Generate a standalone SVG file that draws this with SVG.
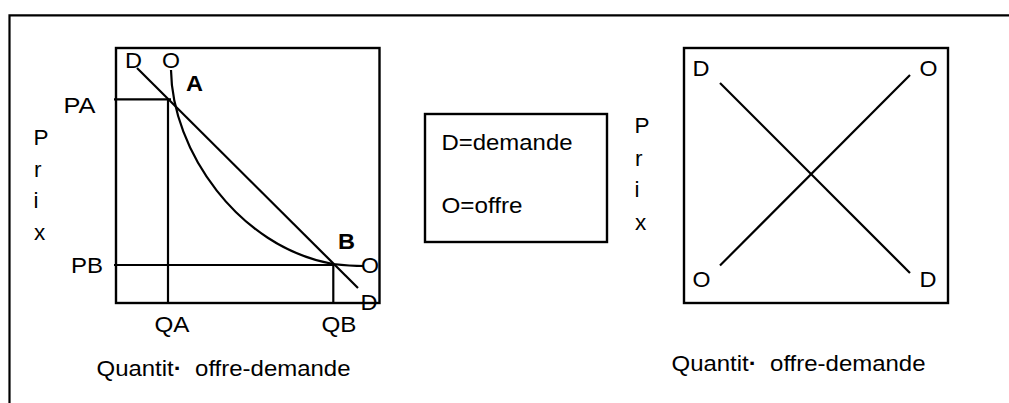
<svg xmlns="http://www.w3.org/2000/svg" width="1009" height="403" viewBox="0 0 1009 403">
<style>
.ln{fill:none;stroke:#000;stroke-width:2.2;stroke-linecap:butt}
.bx{fill:#fff;stroke:#000;stroke-width:2.4}
text{font-family:"Liberation Sans",Arial,Helvetica,sans-serif;font-size:22.5px;fill:#000}
.b{font-weight:bold}
</style>
<rect width="1009" height="403" fill="#fff"/>
<g id="frame">
<path class="ln" d="M9.5,403 V15.3 H1009" stroke-width="2.5"/>
</g>
<g id="panel-left">
<rect class="bx" x="116" y="48" width="263.5" height="255"/>
<g id="left-curves">
<path class="ln" d="M114,99.3 H171"/>
<path class="ln" d="M168,99 V303"/>
<path class="ln" d="M114,265 H334"/>
<path class="ln" d="M333.3,265 V303"/>
<path class="ln" d="M137,68 L358,288"/>
<path class="ln" d="M171,70 C172,150 238,247 333,264 Q350,266 364,266"/>
</g>
<text x="125" y="68" textLength="17" lengthAdjust="spacingAndGlyphs">D</text>
<text x="162" y="68" textLength="18" lengthAdjust="spacingAndGlyphs">O</text>
<text class="b" x="186" y="91" textLength="17" lengthAdjust="spacingAndGlyphs">A</text>
<text x="63.5" y="113" textLength="32" lengthAdjust="spacingAndGlyphs">PA</text>
<text x="33.5" y="145">P</text>
<text x="34" y="177">r</text>
<text x="33.5" y="208">i</text>
<text x="34" y="240">x</text>
<text x="71" y="273" textLength="32" lengthAdjust="spacingAndGlyphs">PB</text>
<text class="b" x="338" y="249" textLength="17" lengthAdjust="spacingAndGlyphs">B</text>
<text x="361" y="273" textLength="18" lengthAdjust="spacingAndGlyphs">O</text>
<text x="360.5" y="310" textLength="17" lengthAdjust="spacingAndGlyphs">D</text>
<text x="154.5" y="332" textLength="35" lengthAdjust="spacingAndGlyphs">QA</text>
<text x="321.5" y="332" textLength="35" lengthAdjust="spacingAndGlyphs">QB</text>
<text x="96.5" y="376" textLength="254" lengthAdjust="spacingAndGlyphs">Quantit<tspan font-weight="bold">·</tspan>&#160;&#160;offre-demande</text>
</g>
<g id="legend">
<rect class="bx" x="425" y="114" width="182" height="128"/>
<text x="441.5" y="150" textLength="131" lengthAdjust="spacingAndGlyphs">D=demande</text>
<text x="441.5" y="213" textLength="81" lengthAdjust="spacingAndGlyphs">O=offre</text>
</g>
<g id="prix-right">
<text x="634.5" y="133">P</text>
<text x="635" y="166">r</text>
<text x="634.5" y="197">i</text>
<text x="635" y="230">x</text>
</g>
<g id="panel-right">
<rect class="bx" x="684" y="48" width="264" height="255"/>
<g id="right-lines">
<path class="ln" d="M720,83 L910,273"/>
<path class="ln" d="M720,265.5 L910,75"/>
</g>
<text x="692.5" y="76" textLength="17" lengthAdjust="spacingAndGlyphs">D</text>
<text x="919.5" y="76" textLength="18" lengthAdjust="spacingAndGlyphs">O</text>
<text x="692.5" y="287" textLength="18" lengthAdjust="spacingAndGlyphs">O</text>
<text x="919.5" y="287" textLength="17" lengthAdjust="spacingAndGlyphs">D</text>
<text x="671.5" y="371" textLength="254" lengthAdjust="spacingAndGlyphs">Quantit<tspan font-weight="bold">·</tspan>&#160;&#160;offre-demande</text>
</g>
</svg>
